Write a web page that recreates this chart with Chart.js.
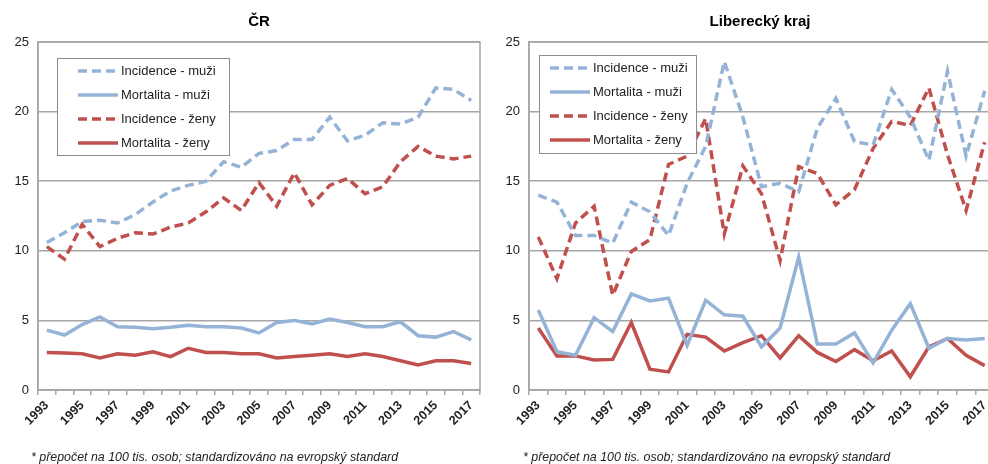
<!DOCTYPE html>
<html>
<head>
<meta charset="utf-8">
<script src="https://cdn.jsdelivr.net/npm/chart.js@4/dist/chart.umd.min.js"></script>
<style>
  body { margin: 0; width: 988px; height: 464px; overflow: hidden; background: #fff; position: relative; font-family: "Liberation Sans", Arial, sans-serif; }
  .box { position: absolute; top: 0; height: 464px; }
  .titulek { position: absolute; top: 12px; font-weight: bold; font-size: 15px; color: #000; text-align: center; }
  .pozn { position: absolute; top: 450px; font-style: italic; font-size: 12.4px; color: #222; white-space: nowrap; }
</style>
</head>
<body>
<div class="box" style="left:0;width:494px"><canvas id="grafCR" width="494" height="464"></canvas></div>
<div class="box" style="left:491px;width:517px"><canvas id="grafLK" width="517" height="464"></canvas></div>
<div class="titulek" style="left:38px;width:442px">ČR</div>
<div class="titulek" style="left:529px;width:462px">Liberecký kraj</div>
<div class="pozn" style="left:31px">* přepočet na 100 tis. osob; standardizováno na evropský standard</div>
<div class="pozn" style="left:523px">* přepočet na 100 tis. osob; standardizováno na evropský standard</div>

<script>
// roky
const roky = ['1993','1994','1995','1996','1997','1998','1999','2000','2001','2002','2003','2004','2005',
  '2006','2007','2008','2009','2010','2011','2012','2013','2014','2015','2016','2017'];

// CR
const crIncidenceMuzi = [10.6,11.3,12.1,12.2,12.0,12.6,13.5,14.3,14.7,15.0,16.4,16.0,17.0,17.2,18.0,18.0,19.6,17.9,18.3,19.2,19.1,19.6,21.7,21.6,20.8];
const crMortalitaMuzi = [4.3,3.95,4.7,5.25,4.55,4.5,4.4,4.5,4.65,4.55,4.55,4.45,4.1,4.85,5.0,4.75,5.1,4.85,4.55,4.55,4.9,3.9,3.8,4.2,3.6];
const crIncidenceZeny = [10.3,9.4,11.9,10.3,10.9,11.3,11.2,11.7,12.0,12.8,13.8,12.9,14.9,13.2,15.6,13.3,14.7,15.2,14.1,14.6,16.4,17.5,16.8,16.6,16.8];
const crMortalitaZeny = [2.7,2.65,2.6,2.3,2.6,2.5,2.75,2.4,3.0,2.7,2.7,2.6,2.6,2.3,2.4,2.5,2.6,2.4,2.6,2.4,2.1,1.8,2.1,2.1,1.9];

// Liberecky kraj
const lkIncidenceMuzi = [14.0,13.5,11.1,11.1,10.55,13.5,12.8,11.1,14.85,17.5,23.6,19.6,14.6,14.85,14.25,18.8,20.95,17.85,17.6,21.6,19.6,16.5,22.9,16.8,21.5];
const lkMortalitaMuzi = [5.75,2.75,2.5,5.2,4.2,6.9,6.4,6.6,3.2,6.45,5.4,5.3,3.1,4.45,9.55,3.3,3.3,4.1,1.95,4.3,6.2,3.0,3.7,3.6,3.7];
const lkIncidenceZeny = [11.0,8.0,12.0,13.2,6.8,9.95,10.8,16.2,16.8,19.5,11.2,16.1,14.1,9.3,16.05,15.55,13.3,14.4,17.35,19.3,19.0,21.7,16.9,12.9,17.8];
const lkMortalitaZeny = [4.45,2.45,2.45,2.15,2.2,4.85,1.5,1.3,4.0,3.8,2.8,3.4,3.9,2.3,3.9,2.7,2.05,2.9,2.1,2.8,0.95,3.1,3.7,2.5,1.75];

const nazvySerii = ['Incidence - muži', 'Mortalita - muži', 'Incidence - ženy', 'Mortalita - ženy'];
const modra = '#95b3d7';
const cervena = '#c0504d';
const carkovani = [9, 5];

function datasety(incM, morM, incZ, morZ) {
  const d = [incM, morM, incZ, morZ];
  return d.map(function (hodnoty, i) {
    return {
      label: nazvySerii[i],
      data: hodnoty,
      borderColor: i < 2 ? modra : cervena,
      borderWidth: 3.5,
      borderDash: i % 2 === 0 ? carkovani : [],
      pointRadius: 0,
      tension: 0,
      fill: false
    };
  });
}

// ramecek kolem plochy grafu + legenda uvnitr
const ramecekPlugin = {
  id: 'ramecek',
  afterDraw(chart, args, opts) {
    const c = chart.ctx;
    const a = chart.chartArea;
    c.save();
    c.strokeStyle = '#a6a6a6';
    c.lineWidth = 1.5;
    c.strokeRect(a.left, a.top, a.right - a.left, a.bottom - a.top);

    // legenda
    const lx = a.left + opts.dx, ly = a.top + opts.dy;
    c.fillStyle = '#fff';
    c.fillRect(lx, ly, opts.w, opts.h);
    c.strokeStyle = '#8c8c8c';
    c.lineWidth = 1;
    c.strokeRect(lx + 0.5, ly + 0.5, opts.w, opts.h);
    c.font = '13px "Liberation Sans", Arial, sans-serif';
    c.textBaseline = 'middle';
    chart.data.datasets.forEach(function (ds, i) {
      const y = ly + opts.prvni + i * opts.krok;
      c.beginPath();
      c.strokeStyle = ds.borderColor;
      c.lineWidth = 3.5;
      c.setLineDash(ds.borderDash);
      c.moveTo(lx + opts.car0, y);
      c.lineTo(lx + opts.car1, y);
      c.stroke();
      c.setLineDash([]);
      c.fillStyle = '#222';
      c.fillText(ds.label, lx + opts.car1 + 3, y);
    });
    c.restore();
  }
};

function vytvorGraf(id, sady, legenda, pravo) {
  return new Chart(document.getElementById(id), {
    type: 'line',
    data: { labels: roky, datasets: sady },
    plugins: [ramecekPlugin],
    options: {
      responsive: false,
      animation: false,
      layout: { padding: { top: 42, right: pravo, left: 0, bottom: 0 } },
      plugins: {
        legend: { display: false },
        tooltip: { enabled: false },
        ramecek: legenda
      },
      scales: {
        x: {
          offset: true,
          grid: { offset: true, drawOnChartArea: false, drawTicks: true, tickLength: 5, color: '#a6a6a6', lineWidth: 1.5 },
          border: { color: '#a6a6a6', width: 1.5 },
          ticks: {
            autoSkip: false,
            maxRotation: 45,
            minRotation: 45,
            color: '#222',
            font: { family: '"Liberation Sans", Arial, sans-serif', size: 12.5, weight: 'bold' },
            callback: function (v, i) { return i % 2 === 0 ? roky[i] : ''; }
          },
          afterFit: function (s) { s.height = 74; }
        },
        y: {
          min: 0,
          max: 25,
          ticks: { stepSize: 5, padding: 9, color: '#222', font: { family: '"Liberation Sans", Arial, sans-serif', size: 13 } },
          grid: { drawTicks: false, color: '#a6a6a6', lineWidth: 1.5 },
          border: { color: '#a6a6a6', width: 1.5 },
          afterFit: function (s) { s.width = 38; }
        }
      }
    }
  });
}

vytvorGraf('grafCR', datasety(crIncidenceMuzi, crMortalitaMuzi, crIncidenceZeny, crMortalitaZeny),
  { dx: 19, dy: 16, w: 172, h: 97, prvni: 13, krok: 24, car0: 21, car1: 61 }, 14);
vytvorGraf('grafLK', datasety(lkIncidenceMuzi, lkMortalitaMuzi, lkIncidenceZeny, lkMortalitaZeny),
  { dx: 10, dy: 13, w: 157, h: 98, prvni: 13, krok: 24, car0: 11, car1: 51 }, 14);
</script>
</body>
</html>
